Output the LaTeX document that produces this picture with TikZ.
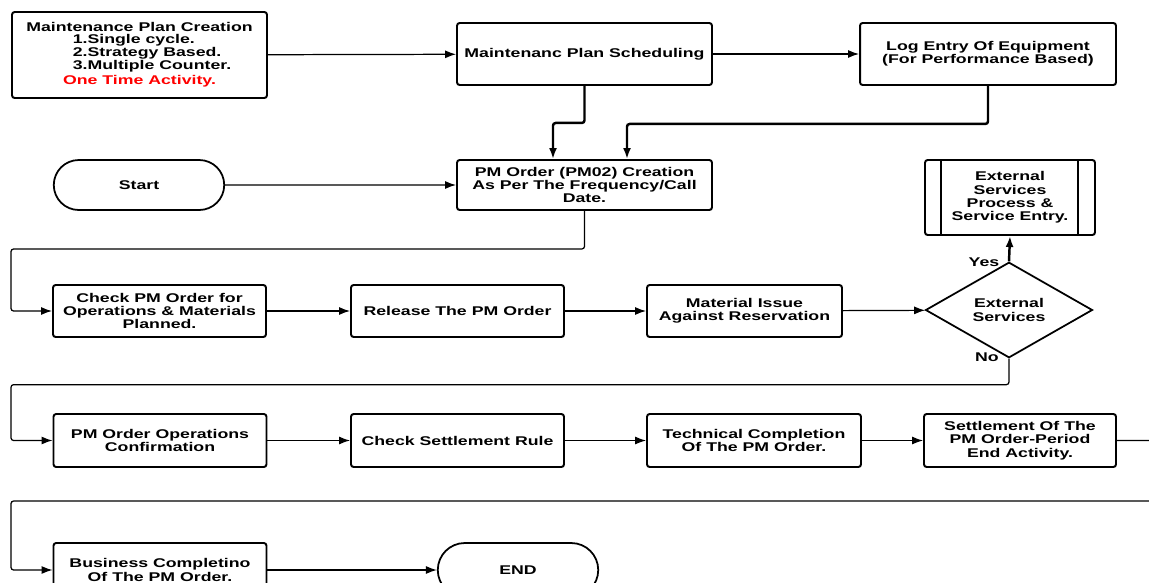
\documentclass[tikz,border=0pt]{standalone}
\usepackage{fontspec}
\setmainfont{Liberation Sans}[FakeStretch=1.4]
\usetikzlibrary{shapes.misc}
\usetikzlibrary{shapes.geometric}
\usetikzlibrary{arrows.meta}

\begin{document}
\begin{tikzpicture}[x=0.02cm, y=-0.02cm,
    every node/.style={font=\bfseries\fontsize{7.2}{7.6}\selectfont, align=center},
    box/.style={draw, line width=1.1pt, rounded corners=1.5pt, inner sep=1pt},
    term/.style={draw, line width=1pt, rounded rectangle, inner sep=1pt},
    link/.style={draw, line width=0.7pt, rounded corners=1.5pt, -{Latex[length=2.2mm,width=1.6mm]}},
    feed/.style={link, line width=1.4pt}]
    \clip (0,0) rectangle (1149,582);

    \coordinate (edge) at (11,0);
    \coordinate (rim) at (1175,501);

    \node[box, minimum width=5.1cm, minimum height=1.72cm] (mpc) at (139.5,55)
        {Maintenance Plan Creation\\
         \hspace*{0.5cm}\begin{tabular}{@{}l@{}}1.Single cycle.\\2.Strategy Based.\\3.Multiple Counter.\end{tabular}\\
         \textcolor{red}{One Time Activity.}};
    \node[box, minimum width=5.1cm, minimum height=1.24cm] (mps) at (584.5,54)
        {Maintenanc Plan Scheduling};
    \node[box, minimum width=5.12cm, minimum height=1.24cm] (log) at (988,54)
        {Log Entry Of Equipment\\(For Performance Based)};

    \node[term, minimum width=3.48cm, minimum height=1cm] (start) at (139,185) {Start};
    \node[box, minimum width=5.1cm, minimum height=1cm] (pmo) at (584.5,185)
        {PM Order (PM02) Creation\\As Per The Frequency/Call\\Date.};
    \node[box, minimum width=3.4cm, minimum height=1.5cm] (ext) at (1010,197.5)
        {External\\Services\\Process \&\\Service Entry.};
    \draw[line width=1.1pt] ([xshift=0.34cm]ext.north west) -- ([xshift=0.34cm]ext.south west);
    \draw[line width=1.1pt] ([xshift=-0.36cm]ext.north east) -- ([xshift=-0.36cm]ext.south east);

    \node[box, minimum width=4.26cm, minimum height=1.04cm] (check) at (159.5,311)
        {Check PM Order for\\Operations \& Materials\\Planned.};
    \node[box, minimum width=4.26cm, minimum height=1.04cm] (release) at (457.5,311)
        {Release The PM Order};
    \node[box, minimum width=3.9cm, minimum height=1.04cm] (material) at (744.5,311)
        {Material Issue\\Against Reservation};
    \node[draw, line width=1pt, diamond, inner sep=0pt, minimum width=3.34cm, minimum height=1.44cm] (dia) at (1009,310)
        {External\\Services};
    \node (yes) at (984,262) {Yes};
    \node (no) at (987,357) {No};

    \node[box, minimum width=4.26cm, minimum height=1.06cm] (ops) at (160,440.5)
        {PM Order Operations\\Confirmation};
    \node[box, minimum width=4.26cm, minimum height=1.06cm] (rule) at (457.5,440.5)
        {Check Settlement Rule};
    \node[box, minimum width=4.28cm, minimum height=1.06cm] (tech) at (754,440.5)
        {Technical Completion\\Of The PM Order.};
    \node[box, minimum width=3.84cm, minimum height=1.06cm] (settle) at (1020,440.5)
        {Settlement Of The\\PM Order-Period\\End Activity.};

    \node[box, minimum width=4.26cm, minimum height=1.08cm] (business) at (160,570)
        {Business Completino\\Of The PM Order.};
    \node[term, minimum width=3.28cm, minimum height=1.08cm] (end) at (518,570) {END};

    \draw[link] (mpc) -- (mps);
    \draw[link] (mps) -- (log);
    \draw[feed] (mps.south) -- ++(0,37) -| ([xshift=-0.63cm]pmo.north);
    \draw[feed] (log.south) -- ++(0,38) -| ([xshift=0.85cm]pmo.north);
    \draw[link] (start) -- (pmo);
    \draw[link] (pmo.south) -- ++(0,38) -| (edge |- check.west) -- (check.west);
    \draw[link] (check) -- (release);
    \draw[link] (release) -- (material);
    \draw[link] (material) -- (dia);
    \draw[feed] (dia.north) -- (ext.south);
    \draw[link] (dia.south) -- ++(0,26) -| (edge |- ops.west) -- (ops.west);
    \draw[link] (ops) -- (rule);
    \draw[link] (rule) -- (tech);
    \draw[link] (tech) -- (settle);
    \draw[link] (settle.east) -| (rim) -| (edge |- business.west) -- (business.west);
    \draw[link] (business) -- (end);
\end{tikzpicture}
\end{document}
